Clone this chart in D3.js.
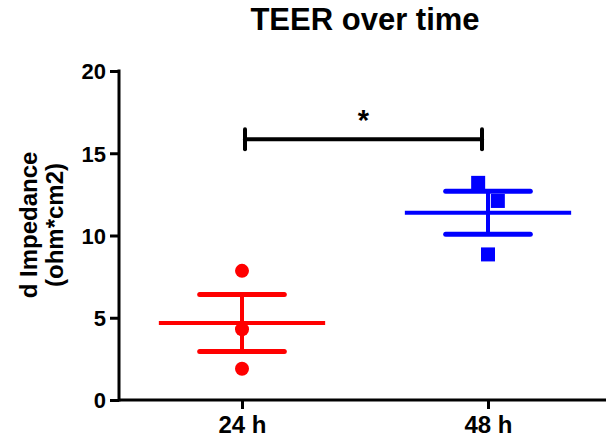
<!DOCTYPE html>
<html><head><meta charset="utf-8">
<script src="https://cdn.jsdelivr.net/npm/d3@7/dist/d3.min.js"></script>
<style>
body{margin:0;background:#fff;}
text{font-family:Arial,"Liberation Sans",Helvetica,sans-serif;font-weight:bold;}
</style></head>
<body><svg id="chart" width="606" height="438"></svg>
<script>
const categories = ["24 h", "48 h"];
const values24h = [7.85, 4.3, 1.9];
const values48h = [13.2, 12.1, 8.85];
const yTicks = [0, 5, 10, 15, 20];
const seriesColors = ["#ff0000", "#0000ff"];
const seriesShapes = ["circle", "square"];
const significance = {from: "24 h", to: "48 h", level: 15.85, label: "*"};
const titleText = "TEER over time";
const yLabelLines = ["d Impedance", "(ohm*cm2)"];

const svg = d3.select("#chart");
const x = d3.scalePoint().domain(categories).range([119, 611]).padding(0.5);
const y = d3.scaleLinear().domain([0, 20]).range([400, 71]);
const step = x.step();

const series = [values24h, values48h].map((vals, i) => {
  const n = vals.length;
  const mean = d3.mean(vals);
  const sem = d3.deviation(vals) / Math.sqrt(n);
  // jitter points that lie close to another point
  const sorted = vals.map((v, j) => ({v, j})).sort((a, b) => b.v - a.v);
  const off = new Array(n).fill(0);
  let k = 0;
  sorted.forEach((p, idx) => {
    const close = sorted.some((q, jdx) => jdx !== idx && Math.abs(q.v - p.v) < 1.5);
    if (close) { off[p.j] = (k % 2 === 0 ? -1 : 1) * 0.04 * step; k++; }
  });
  return {cat: categories[i], vals, mean, sem, off, color: seriesColors[i], shape: seriesShapes[i]};
});

// axes
const yAxis = d3.axisLeft(y).tickValues(yTicks).tickSize(9).tickPadding(4).tickSizeOuter(0);
const gy = svg.append("g").attr("transform", "translate(119,0)").call(yAxis);
const xAxis = d3.axisBottom(x).tickSize(9).tickPadding(6).tickSizeOuter(0);
const gx = svg.append("g").attr("transform", "translate(0,400)").call(xAxis);
[gx, gy].forEach(g => {
  g.select(".domain").attr("stroke", "#000").attr("stroke-width", 3);
  g.selectAll(".tick line").attr("stroke", "#000").attr("stroke-width", 3);
  g.selectAll(".tick text").attr("fill", "#000").style("font-weight", "bold")
    .style("font-family", "Arial, 'Liberation Sans', sans-serif");
});
gy.selectAll(".tick text").style("font-size", "22px").attr("dy", "0.36em");
gx.selectAll(".tick text").style("font-size", "24px").attr("y", 33).attr("dy", 0);
gx.select(".domain").attr("d", `M119,0H606`);
gy.select(".domain").attr("d", `M0,${y(0)+1.5}V${y(20)-1.5}`);

// data
series.forEach(s => {
  const cx = x(s.cat);
  const g = svg.append("g").attr("stroke", s.color).attr("fill", s.color);
  // mean line
  g.append("line").attr("x1", cx - 0.338 * step).attr("x2", cx + 0.338 * step)
    .attr("y1", y(s.mean)).attr("y2", y(s.mean)).attr("stroke-width", 4);
  // SEM
  g.append("line").attr("x1", cx).attr("x2", cx)
    .attr("y1", y(s.mean + s.sem)).attr("y2", y(s.mean - s.sem)).attr("stroke-width", 4);
  [s.mean + s.sem, s.mean - s.sem].forEach(v => {
    g.append("line").attr("x1", cx - 0.172 * step).attr("x2", cx + 0.172 * step)
      .attr("y1", y(v)).attr("y2", y(v)).attr("stroke-width", 5).attr("stroke-linecap", "round");
  });
  // points
  s.vals.forEach((v, j) => {
    const px = cx + s.off[j];
    if (s.shape === "circle") {
      g.append("circle").attr("cx", px).attr("cy", y(v)).attr("r", 7).attr("stroke", "none");
    } else {
      g.append("rect").attr("x", px - 7).attr("y", y(v) - 7).attr("width", 14).attr("height", 14).attr("stroke", "none");
    }
  });
});

// significance bar
const sx1 = x(significance.from) + 3, sx2 = x(significance.to) - 6, sy = y(significance.level);
const sg = svg.append("g").attr("stroke", "#000").attr("stroke-width", 4).attr("stroke-linecap", "round");
sg.append("line").attr("x1", sx1).attr("x2", sx2).attr("y1", sy).attr("y2", sy);
sg.append("line").attr("x1", sx1).attr("x2", sx1).attr("y1", sy - 10).attr("y2", sy + 10);
sg.append("line").attr("x1", sx2).attr("x2", sx2).attr("y1", sy - 10).attr("y2", sy + 10);
svg.append("text").attr("x", (sx1 + sx2) / 2).attr("y", sy - 9).attr("text-anchor", "middle")
  .style("font-size", "29px").text(significance.label);

// title
svg.append("text").attr("x", 365).attr("y", 30).attr("text-anchor", "middle")
  .style("font-size", "31px").text(titleText);

// y label
const yl = svg.append("text").attr("transform", "translate(37,225) rotate(-90)").attr("text-anchor", "middle")
  .style("font-size", "24px");
yLabelLines.forEach((t, i) => yl.append("tspan").attr("x", 0).attr("dy", i === 0 ? 0 : 26).text(t));
</script></body></html>
